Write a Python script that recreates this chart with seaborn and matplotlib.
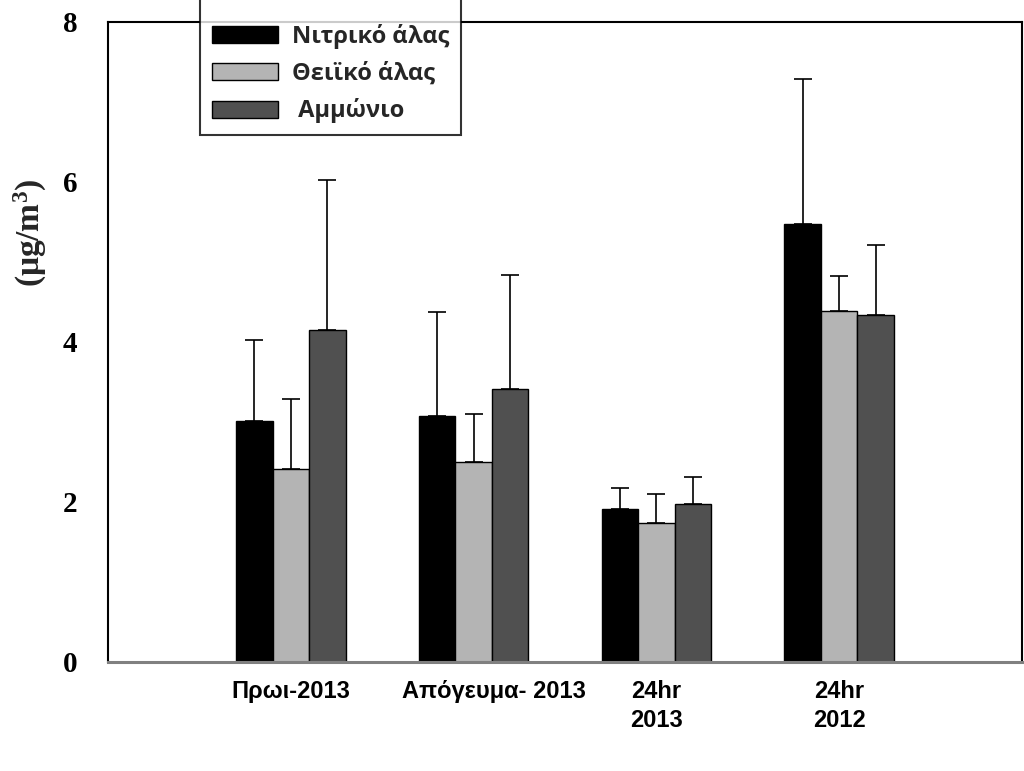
import numpy as np
import pandas as pd
import seaborn as sns
import matplotlib
matplotlib.use('Agg')
import matplotlib.pyplot as plt
import matplotlib.transforms as mtransforms

# values
periods = ['Πρωι-2013', 'Απόγευμα- 2013', '24hr\n2013', '24hr\n2012']
species = ['Νιτρικό άλας', 'Θειϊκό άλας', ' Αμμώνιο']
means = {
    'Νιτρικό άλας': [3.01, 3.07, 1.91, 5.47],
    'Θειϊκό άλας': [2.41, 2.50, 1.74, 4.39],
    ' Αμμώνιο': [4.15, 3.41, 1.98, 4.34],
}
upper = {  # top of the error bar
    'Νιτρικό άλας': [4.02, 4.38, 2.18, 7.29],
    'Θειϊκό άλας': [3.29, 3.10, 2.10, 4.83],
    ' Αμμώνιο': [6.02, 4.84, 2.31, 5.21],
}
colors = ['#000000', '#b4b4b4', '#505050']

rows = []
for s in species:
    for p, m, u in zip(periods, means[s], upper[s]):
        rows.append({'period': p, 'species': s, 'value': m, 'err': u - m})
df = pd.DataFrame(rows)

sns.set_style('white')
plt.rcParams['mathtext.fontset'] = 'custom'
plt.rcParams['mathtext.rm'] = 'Liberation Serif:bold'
plt.rcParams['mathtext.default'] = 'rm'

fig = plt.figure(figsize=(10.24, 7.71), dpi=100)
ax = fig.add_axes([108 / 1024, 109 / 771, 914 / 1024, 640 / 771])

sns.barplot(data=df, x='period', y='value', hue='species', order=periods,
            hue_order=species, palette=colors, width=0.6, errorbar=None,
            edgecolor='black', linewidth=1.0, saturation=1, ax=ax, zorder=2)

# upper-only error bars on each bar
for cont, s in zip(ax.containers, species):
    errs = df[df['species'] == s].set_index('period').loc[periods, 'err'].values
    xs = [b.get_x() + b.get_width() / 2 for b in cont]
    hs = [b.get_height() for b in cont]
    ax.errorbar(xs, hs, yerr=[np.zeros(len(errs)), errs], fmt='none',
                ecolor='black', elinewidth=1.2, capsize=6.5, capthick=1.2,
                zorder=1)

ax.set_xlim(-1, 4)
ax.set_ylim(0, 8)
ax.set_yticks([0, 2, 4, 6, 8])
ax.set_yticklabels(['0', '2', '4', '6', '8'], fontfamily='Liberation Serif',
                   fontweight='bold', fontsize=21)
ax.set_xticks(range(len(periods)))
ax.set_xticklabels(periods, fontfamily='Liberation Sans', fontweight='bold',
                   fontsize=17, linespacing=1.35, va='top')
ax.tick_params(axis='both', direction='out', length=8, width=1, colors='#444444',
               labelcolor='black')
ax.tick_params(axis='y', pad=14)
ax.tick_params(axis='x', pad=5)
ax.set_xlabel('')
ax.set_ylabel('(μg/m$^3$)', fontfamily='Liberation Serif', fontweight='bold',
              fontsize=24)
ax.yaxis.set_label_coords(-0.065, 0.67)

# the second label sits a little right of its tick in the original
lab = ax.get_xticklabels()[1]
lab.set_transform(lab.get_transform() +
                  mtransforms.ScaledTranslation(0.2, 0, fig.dpi_scale_trans))

for side in ['top', 'right', 'left']:
    ax.spines[side].set_color('black')
    ax.spines[side].set_linewidth(1.5)
ax.spines['bottom'].set_color('#808080')
ax.spines['bottom'].set_linewidth(2.2)

# blank title keeps the frame's top edge above the figure, as in the original
leg = ax.legend(loc='lower left', bbox_to_anchor=(0.1007, 0.823),
                frameon=True, fancybox=False, shadow=False, edgecolor='black',
                prop={'family': 'Open Sans', 'weight': 'bold', 'size': 17},
                title=' ', title_fontsize=9,
                handlelength=2.8, handleheight=0.75, handletextpad=0.6,
                labelspacing=0.55, borderpad=0.5, borderaxespad=0)
leg.get_frame().set_linewidth(1.5)
leg.set_zorder(5)

fig.savefig('out.png', dpi=100)
